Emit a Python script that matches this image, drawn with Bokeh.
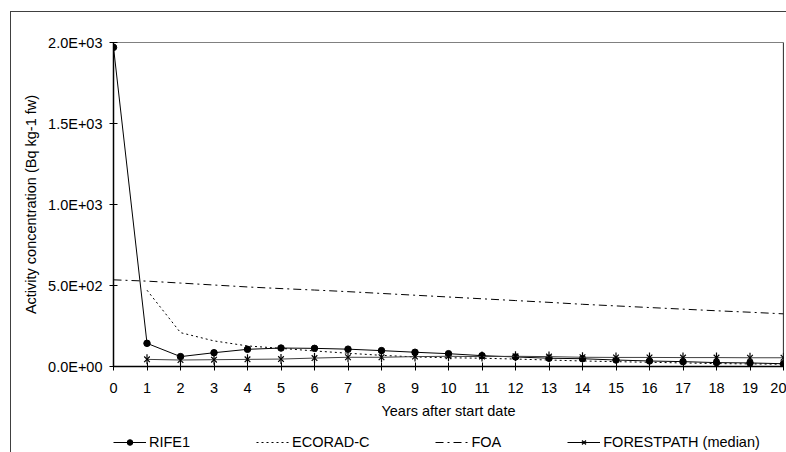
from bokeh.plotting import figure
from bokeh.layouts import column
from bokeh.models import (Range1d, FixedTicker, CustomJSTickFormatter, Legend,
                          LegendItem, Span, InlineStyleSheet)
from bokeh.embed import file_html
from bokeh.resources import INLINE

# Activity concentration (Bq kg-1 fw) by year after start date
years = list(range(0, 21))
rife1 = [1970, 143, 61, 85, 106, 114, 112, 107, 98, 88, 79, 67, 59, 51, 48, 40, 34, 30, 24, 22, 17]

ecorad_years = list(range(1, 21))
ecorad_c = [471, 209, 158, 127, 112, 96, 82, 69, 59, 54, 51, 46, 40, 34, 30, 26, 22, 18, 16, 14]

foa = [535, 527, 515, 503, 491, 481, 472, 462, 451, 440, 429, 418, 407, 396, 384, 374, 364, 354, 344, 335, 325]

forestpath_years = list(range(1, 21))
forestpath_median = [44, 40, 42, 44, 46, 52, 57, 57, 61, 63, 61, 63, 61, 57, 56, 56, 55, 55, 54, 54]

series_names = ["RIFE1", "ECORAD-C", "FOA", "FORESTPATH (median)"]

x_ticks = list(range(0, 21))
y_ticks = [0, 500, 1000, 1500, 2000]

FONT = "Liberation Sans"
FS = "14.5px"

# outer chart border: left + top on the chart, left only on the legend strip
chart_border = InlineStyleSheet(css="""
:host::after {
  content: ""; position: absolute; left: 10px; top: 11px; right: 0; bottom: 0;
  border-left: 1.5px solid #404040; border-top: 1.5px solid #404040;
  pointer-events: none;
}
""")
strip_border = InlineStyleSheet(css="""
:host::after {
  content: ""; position: absolute; left: 10px; top: 0; right: 0; bottom: 0;
  border-left: 1.5px solid #404040;
  pointer-events: none;
}
""")

# ---- main chart ----
p = figure(width=786, height=428, output_backend="svg", toolbar_location=None,
           x_range=Range1d(0, 20), y_range=Range1d(0, 2000),
           min_border_left=113, min_border_right=3, min_border_top=42, min_border_bottom=62)
p.stylesheets = [chart_border]
p.xgrid.visible = False
p.ygrid.visible = False
p.outline_line_color = "#808080"
p.outline_line_width = 1
p.background_fill_color = "white"
p.border_fill_color = "white"

p.xaxis.ticker = FixedTicker(ticks=x_ticks)
p.yaxis.ticker = FixedTicker(ticks=y_ticks)
p.yaxis.formatter = CustomJSTickFormatter(code="""
    const e = tick == 0 ? 0 : Math.floor(Math.log10(Math.abs(tick)) + 1e-9);
    const m = tick / Math.pow(10, e);
    return m.toFixed(1) + "E+" + String(e).padStart(2, "0");
""")
for ax in (p.xaxis[0], p.yaxis[0]):
    ax.axis_line_color = "black"
    ax.axis_line_width = 1.5
    ax.major_tick_line_color = "black"
    ax.major_tick_in = 4
    ax.major_tick_out = 4
    ax.minor_tick_line_color = None
    ax.major_label_text_font = FONT
    ax.major_label_text_font_size = FS
    ax.major_label_text_color = "black"
    ax.axis_label_text_font = FONT
    ax.axis_label_text_font_size = FS
    ax.axis_label_text_font_style = "normal"
    ax.axis_label_text_color = "black"
p.xaxis.axis_label = "Years after start date"
p.yaxis.axis_label = "Activity concentration (Bq kg-1 fw)"
p.xaxis.major_label_standoff = 12
p.xaxis.axis_label_standoff = 7
p.yaxis.major_label_standoff = 7
p.yaxis.axis_label_standoff = 6

# right edge of the plot area
p.add_layout(Span(location=20, dimension="height", line_color="black", line_width=1.2))

# styles per series
rife_style = dict(line_color="black", line_width=1)
ecorad_style = dict(line_color="black", line_width=1, line_dash="2 3")
foa_style = dict(line_color="black", line_width=1, line_dash="8 4 2 4")
fp_style = dict(line_color="#404040", line_width=1)
dot_style = dict(marker="circle", size=6.5, fill_color="black", line_color="black")
star_x_style = dict(marker="x", size=8, line_color="black", line_width=1.2)
star_v_style = dict(marker="dash", angle=1.5708, size=10, line_color="black", line_width=1.2)

p.line(years, rife1, **rife_style)
p.scatter(years, rife1, **dot_style)
p.line(ecorad_years, ecorad_c, **ecorad_style)
p.line(years, foa, **foa_style)
p.line(forestpath_years, forestpath_median, **fp_style)
p.scatter(forestpath_years, forestpath_median, **star_x_style)
p.scatter(forestpath_years, forestpath_median, **star_v_style)

# ---- legend strip (key glyphs sit outside the strip's visible range) ----
lg = figure(width=786, height=24, output_backend="svg", toolbar_location=None,
            x_axis_type=None, y_axis_type=None, x_range=Range1d(0, 1), y_range=Range1d(0, 1),
            min_border=0, min_border_left=0, min_border_right=0,
            min_border_top=0, min_border_bottom=0)
lg.stylesheets = [strip_border]
lg.outline_line_color = None
lg.xgrid.visible = False
lg.ygrid.visible = False
lg.background_fill_color = "white"
lg.border_fill_color = "white"

off_x = [-5, -4]
off_y = [-5, -4]
k_rl = lg.line(off_x, off_y, **rife_style)
k_rp = lg.scatter(off_x, off_y, **dot_style)
k_el = lg.line(off_x, off_y, **ecorad_style)
k_fl = lg.line(off_x, off_y, **foa_style)
k_pl = lg.line(off_x, off_y, line_color="black", line_width=1)
k_px = lg.scatter(off_x, off_y, **star_x_style)
k_pv = lg.scatter(off_x, off_y, **star_v_style)

legend = Legend(items=[
    LegendItem(label=series_names[0], renderers=[k_rl, k_rp]),
    LegendItem(label=series_names[1], renderers=[k_el]),
    LegendItem(label=series_names[2], renderers=[k_fl]),
    LegendItem(label=series_names[3], renderers=[k_pl, k_px, k_pv]),
], location=(0, 2), orientation="horizontal",
   border_line_alpha=0, background_fill_alpha=0,
   padding=0, margin=0, spacing=66,
   glyph_width=33, glyph_height=14, label_height=14,
   label_standoff=3, label_text_font=FONT, label_text_font_size=FS,
   label_text_color="black")
lg.add_layout(legend, "center")

layout = column(p, lg, spacing=0)
open("out.html", "w").write(file_html(layout, INLINE))
